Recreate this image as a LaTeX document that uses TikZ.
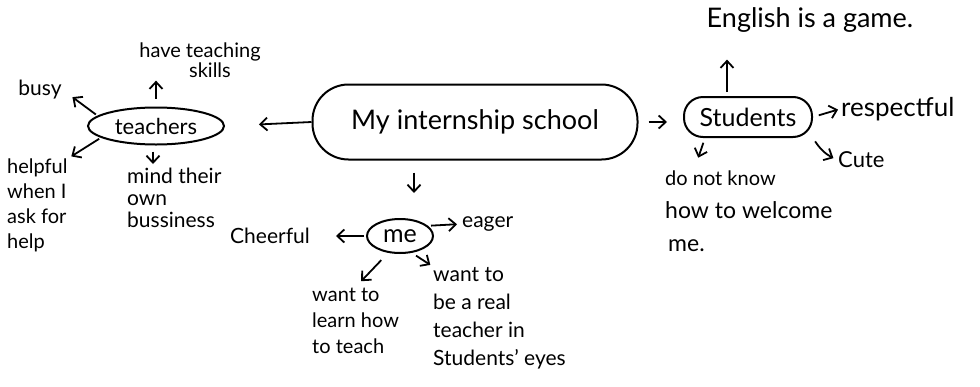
\documentclass[tikz,border=0pt]{standalone}
\usepackage{fontspec}
\setmainfont{Lato}
\usetikzlibrary{arrows.meta,shapes.geometric}
\begin{document}
\begin{tikzpicture}[x=1pt,y=-1pt,
  every node/.style={font=\fontsize{21}{26}\selectfont, inner sep=1pt},
  arr/.style={line width=1.8pt, -{Straight Barb[length=7pt,width=13pt]}},
  bubble/.style={draw, line width=2pt},
  lbl/.style={align=left}]
\useasboundingbox (0,0) rectangle (980,386);
% hubs
\node[bubble, rectangle, rounded corners=36pt, minimum width=325pt, minimum height=75pt,
      font=\fontsize{27}{32}\selectfont] (main) at (475,122) {My internship school};
\node[bubble, ellipse, minimum width=136pt, minimum height=37pt, inner sep=0pt,
      font=\fontsize{22}{26}\selectfont] (teachers) at (156,126) {teachers};
\node[bubble, ellipse, minimum width=66pt, minimum height=34pt, inner sep=0pt,
      font=\fontsize{25}{28}\selectfont] (me) at (400,236) {me};
\node[bubble, rectangle, rounded corners=19pt, minimum width=128pt, minimum height=40pt,
      font=\fontsize{25}{28}\selectfont] (students) at (748,117) {Students};
% labels: teachers
\node[align=center, font=\fontsize{20}{20}\selectfont] (skills) at (200,60) {have teaching\\\hspace*{20pt}skills};
\node (busy) at (40,90) {busy};
\node[lbl, anchor=north west, font=\fontsize{20}{25}\selectfont] (helpful) at (6,158) {helpful\\when I\\ask for\\help};
\node[lbl, anchor=north west, font=\fontsize{21}{22}\selectfont] (mind) at (126,167) {mind their\\own\\bussiness};
% labels: me
\node (cheerful) at (270,236) {Cheerful};
\node[anchor=west] (eager) at (461,224) {eager};
\node[lbl, anchor=north west, font=\fontsize{20}{26}\selectfont] (learn) at (311,287) {want to\\learn how\\to teach};
\node[lbl, anchor=north west, font=\fontsize{21}{28}\selectfont] (real) at (432,266) {want to\\be a real\\teacher in\\Students' eyes};
% labels: students
\node[font=\fontsize{27}{30}\selectfont] (english) at (810,20) {English is a game.};
\node[anchor=west, font=\fontsize{26}{30}\selectfont] (respectful) at (840,109) {respectful};
\node[anchor=west, font=\fontsize{22}{26}\selectfont] (cute) at (837,160) {Cute};
\node[lbl, anchor=north west, font=\fontsize{20}{33}\selectfont] (welcome) at (664,170)
  {do not know\\{\fontsize{23}{33}\selectfont how to welcome}\\\hspace*{3pt}{\fontsize{23}{33}\selectfont me.}};
% connectors from main
\draw[arr, shorten >=34pt] (main.west) -- (teachers.east);
\draw[arr, shorten <=12pt, shorten >=25pt] ([xshift=-61pt]main.south) -- ([xshift=-61pt]main.south |- me.north);
\draw[arr, shorten <=10pt, shorten >=16pt] (main.east) -- (main.east -| students.west);
% teachers
\draw[arr, shorten <=8pt, shorten >=2pt] (teachers.north) -- (teachers.north |- skills.south);
\draw[arr, shorten <=2pt, shorten >=12pt] (teachers.170) -- (busy.east);
\draw[arr, shorten <=2pt, shorten >=3pt] (teachers.192) -- (helpful.north east);
\draw[arr, shorten <=6pt, shorten >=3pt] ([xshift=-3pt]teachers.south) -- ([xshift=-3pt]teachers.south |- mind.north);
% me
\draw[arr, shorten <=2pt, shorten >=25pt] (me.west) -- (cheerful.east);
\draw[arr, shorten <=3pt, shorten >=4pt] (me.20) -- (eager.west);
\draw[arr, shorten <=10pt, shorten >=8pt] (me.235) -- (learn.north);
\draw[arr, shorten <=5pt, shorten >=2pt] (me.305) -- (real.north west);
% students
\draw[arr, shorten <=4pt, shorten >=26pt] ([xshift=-21pt]students.north) -- ([xshift=-21pt]students.north |- english.south);
\draw[arr, shorten <=6pt, shorten >=2pt] (students.east) -- (respectful.west);
\draw[arr, shorten <=4pt, shorten >=4pt] (students.south east) to[bend right=15] (cute.west);
\draw[arr, shorten <=5pt, shorten >=13pt] ([xshift=22pt]students.south west) -- ([xshift=30pt]welcome.north west);
\end{tikzpicture}
\end{document}
